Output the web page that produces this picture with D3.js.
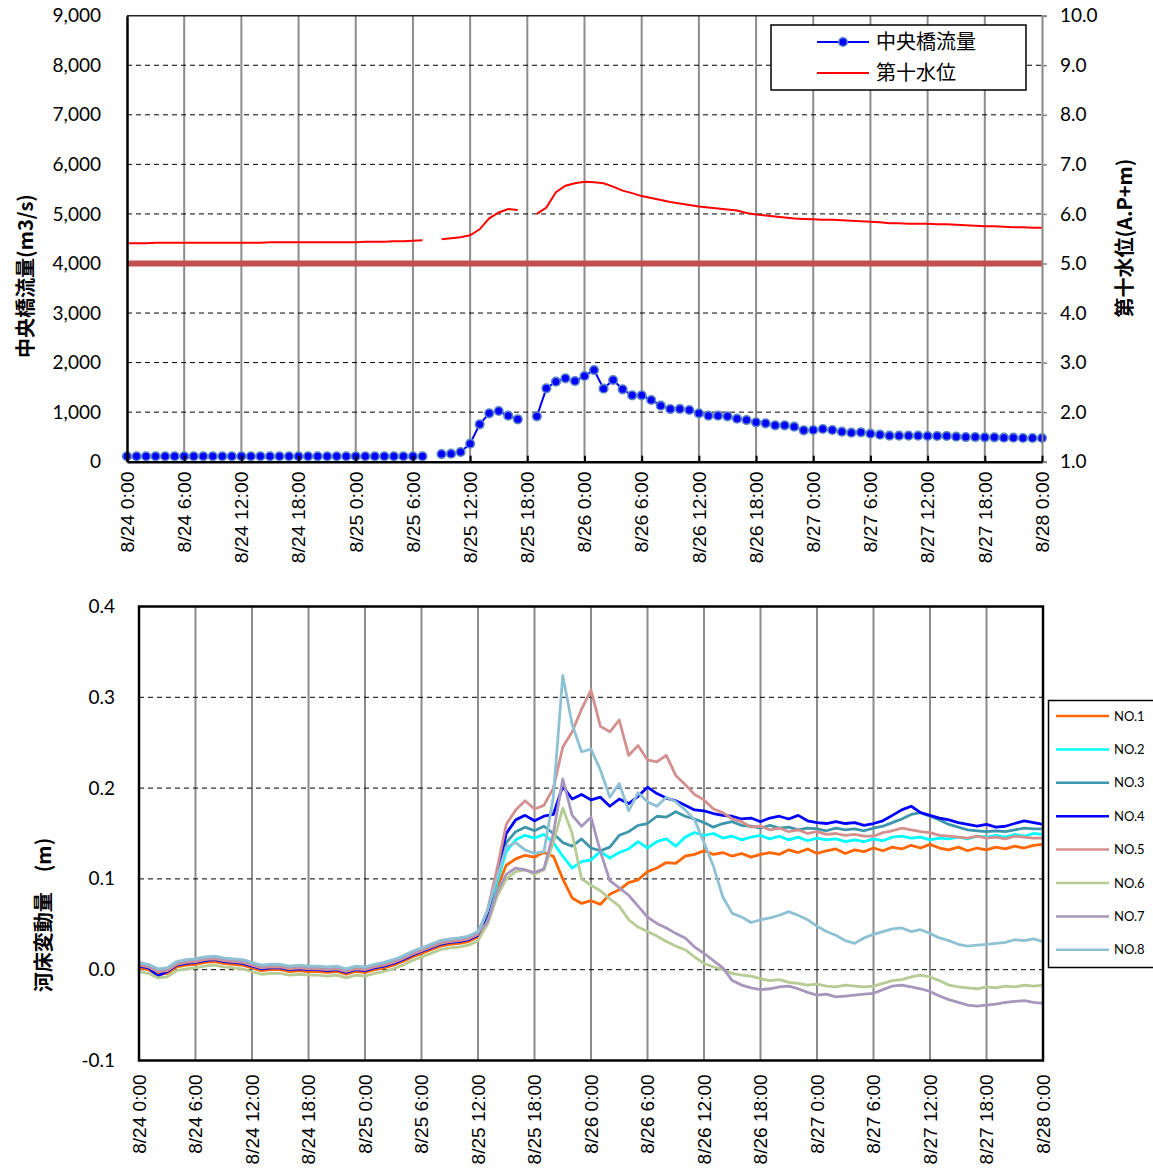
<!DOCTYPE html>
<meta charset="utf-8">
<title>中央橋流量・第十水位・河床変動量</title>
<style>
  body { margin: 0; background: #fff; }
  svg { display: block; }
  .num text { font-family: Lato, "Open Sans", sans-serif; font-size: 19px; fill: #000; }
  .date text { font-family: "Liberation Sans", Arial, sans-serif; font-size: 18px; fill: #000; }
  .title { font-family: "Noto Sans CJK JP", sans-serif; font-weight: bold; font-size: 20px; }
  .vgrid { stroke: #8c8c8c; stroke-width: 2px; }
  .hgrid { stroke: #000; stroke-width: 1px; stroke-dasharray: 5,4; }
  .frame { fill: none; stroke: #000; }
</style>
<svg width="1153" height="1171"></svg>
<script src="https://d3js.org/d3.v7.min.js"></script>
<script>
// hourly samples, 8/24 0:00 .. 8/28 0:00 (97 values), null = no data
var flow = [
  110,110,110,110,110,110,110,110,110,110,110,110,
  110,110,110,110,110,110,110,110,110,110,110,110,
  110,110,110,110,110,110,110,110,
  null,155,161,196,363,755,977,1023,928,856,
  null,916,1481,1614,1683,1628,1729,1850,1473,1649,1461,1340,1340,1245,1130,1063,
  1065,1043,977,928,928,916,868,841,795,775,735,735,706,634,640,660,640,605,585,593,
  565,545,525,525,525,525,519,519,519,505,498,498,492,492,484,484,478,478,478
];
var level = [
  5.41,5.41,5.41,5.42,5.42,5.42,5.42,5.42,5.42,5.42,5.42,5.42,
  5.42,5.42,5.42,5.43,5.43,5.43,5.43,5.43,5.43,5.43,5.43,5.43,
  5.43,5.44,5.44,5.44,5.45,5.45,5.46,5.47,
  null,5.49,5.51,5.53,5.57,5.69,5.91,6.03,6.10,6.08,
  null,6.00,6.13,6.44,6.57,6.62,6.65,6.64,6.62,6.55,6.47,6.42,6.36,6.32,6.28,6.24,
  6.21,6.18,6.15,6.13,6.11,6.09,6.07,6.02,5.99,5.97,5.95,5.93,5.91,5.90,5.89,5.88,5.88,5.87,5.86,5.85,
  5.84,5.83,5.81,5.81,5.80,5.80,5.80,5.79,5.79,5.78,5.77,5.76,5.75,5.75,5.74,5.73,5.73,5.72,5.72
];
var refLevel = 5.0;

var seriesNames = ["NO.1","NO.2","NO.3","NO.4","NO.5","NO.6","NO.7","NO.8"];
var seriesColors = ["#ff6600","#00ffff","#3d96ab","#0000ff","#d4908e","#b7cb95","#a797bd","#8fc1d4"];

var no1 = [0.002,0.000,-0.005,-0.004,0.003,0.005,0.006,0.008,0.009,0.007,0.006,0.005,0.002,-0.001,0.000,0.000,-0.002,-0.001,-0.002,-0.002,-0.003,-0.002,-0.005,-0.002,-0.003,0.000,0.002,0.005,0.009,0.014,0.018,0.022,0.026,0.028,0.029,0.031,0.036,
  0.055,0.090,0.115,0.122,0.126,0.124,0.129,0.125,0.100,0.079,
  0.073,0.076,0.072,0.083,0.088,0.096,0.099,0.108,0.112,0.118,
  0.117,0.125,0.127,0.131,0.127,0.129,0.125,0.128,0.124,0.127,
  0.129,0.127,0.132,0.129,0.133,0.128,0.131,0.133,0.128,0.132,
  0.130,0.134,0.131,0.135,0.133,0.137,0.134,0.138,0.134,0.132,
  0.135,0.131,0.134,0.132,0.135,0.133,0.136,0.134,0.137,0.138];
var no2 = [0.006,0.004,-0.001,0.000,0.007,0.009,0.010,0.012,0.013,0.011,0.010,0.009,0.006,0.003,0.004,0.004,0.002,0.003,0.002,0.002,0.001,0.002,-0.001,0.002,0.001,0.004,0.006,0.009,0.013,0.018,0.022,0.026,0.030,0.032,0.033,0.035,0.040,
  0.058,0.095,0.130,0.143,0.148,0.145,0.149,0.140,0.125,0.112,
  0.119,0.121,0.130,0.123,0.129,0.133,0.141,0.134,0.141,0.144,
  0.136,0.146,0.151,0.148,0.150,0.145,0.147,0.143,0.146,0.148,
  0.144,0.147,0.143,0.146,0.142,0.145,0.143,0.144,0.141,0.143,
  0.141,0.144,0.142,0.146,0.147,0.145,0.146,0.143,0.145,0.144,
  0.146,0.144,0.147,0.146,0.148,0.146,0.149,0.147,0.150,0.149];
var no3 = [0.005,0.003,-0.002,-0.001,0.006,0.008,0.009,0.011,0.012,0.010,0.009,0.008,0.005,0.002,0.003,0.003,0.001,0.002,0.001,0.001,0.000,0.001,-0.002,0.001,0.000,0.003,0.005,0.008,0.012,0.017,0.021,0.025,0.029,0.031,0.032,0.034,0.039,
  0.060,0.100,0.140,0.152,0.157,0.153,0.158,0.150,0.140,0.136,
  0.144,0.134,0.131,0.135,0.148,0.152,0.159,0.161,0.169,0.168,
  0.174,0.169,0.166,0.162,0.157,0.161,0.163,0.159,0.158,0.156,
  0.159,0.156,0.157,0.154,0.156,0.155,0.153,0.156,0.154,0.155,
  0.153,0.156,0.158,0.162,0.166,0.171,0.173,0.169,0.165,0.160,
  0.157,0.154,0.153,0.152,0.153,0.152,0.154,0.156,0.155,0.155];
var no4 = [0.004,0.002,-0.007,-0.002,0.005,0.007,0.008,0.010,0.011,0.009,0.008,0.007,0.004,0.001,0.002,0.002,0.000,0.001,0.000,0.000,-0.001,0.000,-0.003,0.000,-0.001,0.002,0.004,0.007,0.011,0.016,0.020,0.024,0.028,0.030,0.031,0.033,0.038,
  0.062,0.105,0.150,0.165,0.170,0.164,0.169,0.171,0.202,0.188,
  0.193,0.187,0.190,0.180,0.188,0.183,0.191,0.201,0.194,0.189,
  0.186,0.181,0.176,0.175,0.172,0.170,0.169,0.166,0.167,0.163,
  0.167,0.169,0.166,0.170,0.164,0.162,0.161,0.163,0.161,0.162,
  0.159,0.161,0.164,0.170,0.176,0.180,0.173,0.170,0.167,0.165,
  0.162,0.160,0.158,0.160,0.157,0.158,0.161,0.164,0.162,0.160];
var no5 = [0.005,0.003,-0.002,-0.001,0.006,0.008,0.009,0.011,0.012,0.010,0.009,0.008,0.005,0.002,0.003,0.003,0.001,0.002,0.001,0.001,0.000,0.001,-0.002,0.001,0.000,0.003,0.005,0.008,0.012,0.017,0.021,0.025,0.029,0.031,0.032,0.034,0.039,
  0.065,0.110,0.160,0.176,0.186,0.177,0.181,0.200,0.245,0.262,
  0.287,0.308,0.268,0.262,0.275,0.236,0.247,0.231,0.229,0.236,
  0.214,0.204,0.193,0.187,0.177,0.173,0.166,0.163,0.157,0.158,
  0.154,0.156,0.152,0.154,0.150,0.152,0.149,0.150,0.148,0.149,
  0.147,0.147,0.151,0.153,0.156,0.154,0.152,0.151,0.148,0.147,
  0.146,0.145,0.147,0.145,0.146,0.144,0.147,0.146,0.145,0.145];
var no6 = [-0.002,-0.004,-0.009,-0.008,-0.001,0.001,0.002,0.004,0.005,0.003,0.002,0.001,-0.002,-0.005,-0.004,-0.004,-0.006,-0.005,-0.006,-0.006,-0.007,-0.006,-0.009,-0.006,-0.007,-0.004,-0.002,0.001,0.005,0.010,0.014,0.018,0.022,0.024,0.025,0.027,0.032,
  0.050,0.080,0.100,0.108,0.110,0.105,0.110,0.140,0.178,0.150,
  0.100,0.093,0.087,0.078,0.070,0.055,0.047,0.042,0.037,0.031,
  0.026,0.022,0.014,0.007,0.003,0.000,-0.004,-0.006,-0.007,-0.010,
  -0.012,-0.011,-0.014,-0.015,-0.017,-0.016,-0.018,-0.019,-0.017,-0.018,
  -0.019,-0.018,-0.015,-0.012,-0.011,-0.008,-0.006,-0.008,-0.012,-0.017,
  -0.019,-0.020,-0.021,-0.019,-0.020,-0.018,-0.019,-0.017,-0.018,-0.017];
var no7 = [0.007,0.005,0.000,0.001,0.008,0.010,0.011,0.013,0.014,0.012,0.011,0.010,0.007,0.004,0.005,0.005,0.003,0.004,0.003,0.003,0.002,0.003,0.000,0.003,0.002,0.005,0.007,0.010,0.014,0.019,0.023,0.027,0.031,0.033,0.034,0.036,0.041,
  0.052,0.085,0.105,0.112,0.110,0.107,0.111,0.150,0.210,0.170,
  0.158,0.168,0.130,0.098,0.090,0.082,0.070,0.058,0.051,0.046,
  0.040,0.035,0.025,0.018,0.010,0.002,-0.012,-0.017,-0.020,-0.022,
  -0.021,-0.019,-0.018,-0.021,-0.025,-0.028,-0.027,-0.030,-0.029,-0.028,
  -0.027,-0.026,-0.022,-0.018,-0.017,-0.019,-0.021,-0.024,-0.029,-0.033,
  -0.036,-0.039,-0.040,-0.039,-0.038,-0.036,-0.035,-0.034,-0.036,-0.037];
var no8 = [0.008,0.006,0.001,0.002,0.009,0.011,0.012,0.014,0.015,0.013,0.012,0.011,0.008,0.005,0.006,0.006,0.004,0.005,0.004,0.004,0.003,0.004,0.001,0.004,0.003,0.006,0.008,0.011,0.015,0.020,0.024,0.028,0.032,0.034,0.035,0.037,0.042,
  0.065,0.100,0.135,0.140,0.132,0.128,0.130,0.190,0.324,0.270,
  0.240,0.243,0.220,0.190,0.205,0.175,0.195,0.185,0.180,0.190,
  0.185,0.176,0.165,0.140,0.114,0.080,0.062,0.058,0.052,0.055,
  0.057,0.060,0.064,0.060,0.055,0.048,0.042,0.038,0.032,0.029,
  0.035,0.039,0.042,0.045,0.046,0.042,0.044,0.040,0.035,0.032,
  0.028,0.026,0.027,0.028,0.029,0.030,0.033,0.032,0.034,0.031];
var bedSeries = [no1, no2, no3, no4, no5, no6, no7, no8];

var start = new Date(2000, 7, 24, 0, 0);
var end = new Date(2000, 7, 28, 0, 0);
function t(i) { return d3.timeHour.offset(start, i); }
var fmt = d3.timeFormat("%-m/%-d %-H:%M");

var svg = d3.select("svg");

// ---------- top chart ----------
var T = { l: 127, r: 1042, t: 15.7, b: 461.7 };
var x1 = d3.scaleTime().domain([start, end]).range([T.l, T.r]);
var yQ = d3.scaleLinear().domain([0, 9000]).range([T.b, T.t]);
var yH = d3.scaleLinear().domain([1, 10]).range([T.b, T.t]);
var ticks6 = x1.ticks(d3.timeHour.every(6));

var gTop = svg.append("g");
gTop.selectAll(".vgrid").data(ticks6.slice(1, -1)).enter().append("line")
  .attr("class", "vgrid")
  .attr("x1", x1).attr("x2", x1).attr("y1", T.t).attr("y2", T.b);
gTop.selectAll(".hgrid").data(d3.range(1000, 9000, 1000)).enter().append("line")
  .attr("class", "hgrid")
  .attr("x1", T.l).attr("x2", T.r).attr("y1", yQ).attr("y2", yQ);

gTop.append("line").attr("x1", T.l).attr("x2", T.r)
  .attr("y1", yH(refLevel)).attr("y2", yH(refLevel))
  .attr("stroke", "#c0504d").attr("stroke-width", 6);

var lvLine = d3.line().defined(function (d) { return d != null; })
  .x(function (d, i) { return x1(t(i)); }).y(function (d) { return yH(d); });
gTop.append("path").datum(level).attr("d", lvLine)
  .attr("fill", "none").attr("stroke", "#ff0000").attr("stroke-width", 2);

var qLine = d3.line().defined(function (d) { return d != null; })
  .x(function (d, i) { return x1(t(i)); }).y(function (d) { return yQ(d); });
gTop.append("path").datum(flow).attr("d", qLine)
  .attr("fill", "none").attr("stroke", "#0000ff").attr("stroke-width", 2);
gTop.selectAll(".dot").data(flow.map(function (d, i) { return [i, d]; }).filter(function (p) { return p[1] != null; }))
  .enter().append("circle")
  .attr("cx", function (p) { return x1(t(p[0])); })
  .attr("cy", function (p) { return yQ(p[1]); })
  .attr("r", 4.3).attr("fill", "#0000ff")
  .attr("stroke", "#5b86c5").attr("stroke-width", 1.6);

// frame
gTop.append("line").attr("x1", T.l).attr("x2", T.r).attr("y1", T.t).attr("y2", T.t)
  .attr("stroke", "#222").attr("stroke-width", 1.5);

var axL = gTop.append("g").attr("class", "num").attr("transform", "translate(" + T.l + ",0)")
  .call(d3.axisLeft(yQ).tickValues(d3.range(0, 9001, 1000)).tickFormat(d3.format(",")).tickSize(0).tickPadding(26));
axL.select(".domain").attr("stroke", "#000").attr("stroke-width", 2.5);

var axR = gTop.append("g").attr("class", "num").attr("transform", "translate(" + T.r + ",0)")
  .call(d3.axisRight(yH).tickValues(d3.range(1, 10.01, 1)).tickFormat(d3.format(".1f")).tickSize(5).tickPadding(13));
axR.select(".domain").attr("stroke", "#888").attr("stroke-width", 2);
axR.selectAll(".tick line").attr("stroke", "#888").attr("stroke-width", 1.5);

var axB1 = gTop.append("g").attr("class", "date").attr("transform", "translate(0," + T.b + ")")
  .call(d3.axisBottom(x1).tickValues(ticks6).tickFormat(fmt).tickSizeInner(-6).tickSizeOuter(0));
axB1.select(".domain").attr("stroke", "#000").attr("stroke-width", 2.5);
axB1.selectAll(".tick line").attr("stroke", "#000").attr("stroke-width", 2);
axB1.selectAll("text").attr("transform", "rotate(-90) scale(1.08,1)").attr("x", -9).attr("y", 0)
  .attr("dy", "0.35em").attr("text-anchor", "end");

gTop.append("text").attr("class", "title").attr("transform", "translate(33,276) rotate(-90)")
  .attr("text-anchor", "middle").text("中央橋流量(m3/s)");
gTop.append("text").attr("class", "title").attr("transform", "translate(1132,238) rotate(-90)")
  .attr("text-anchor", "middle").text("第十水位(A.P+m)");

// legend top
var lg = gTop.append("g");
lg.append("rect").attr("x", 771).attr("y", 25).attr("width", 255).attr("height", 65)
  .attr("fill", "#fff").attr("stroke", "#000").attr("stroke-width", 1.5);
lg.append("line").attr("x1", 817).attr("x2", 869).attr("y1", 42).attr("y2", 42)
  .attr("stroke", "#0000ff").attr("stroke-width", 2);
lg.append("circle").attr("cx", 843).attr("cy", 42).attr("r", 4.3)
  .attr("fill", "#0000ff").attr("stroke", "#5b86c5").attr("stroke-width", 1.6);
lg.append("line").attr("x1", 817).attr("x2", 869).attr("y1", 73).attr("y2", 73)
  .attr("stroke", "#ff0000").attr("stroke-width", 2);
lg.selectAll("text").data(["中央橋流量", "第十水位"]).enter().append("text")
  .attr("x", 876).attr("y", function (d, i) { return 42 + i * 31; }).attr("dy", "0.36em")
  .style("font-family", "'Noto Sans CJK JP', sans-serif").style("font-size", "20px")
  .text(function (d) { return d; });

// ---------- bottom chart ----------
var B = { l: 139, r: 1043, t: 606.5, b: 1060.5 };
var x2 = d3.scaleTime().domain([start, end]).range([B.l, B.r]);
var yZ = d3.scaleLinear().domain([-0.1, 0.4]).range([B.b, B.t]);

var gBot = svg.append("g");
gBot.selectAll(".vgrid").data(ticks6.slice(1, -1)).enter().append("line")
  .attr("class", "vgrid")
  .attr("x1", x2).attr("x2", x2).attr("y1", B.t).attr("y2", B.b);
gBot.selectAll(".hgrid").data([0, 0.1, 0.2, 0.3]).enter().append("line")
  .attr("class", "hgrid")
  .attr("x1", B.l).attr("x2", B.r).attr("y1", yZ).attr("y2", yZ);

var zLine = d3.line().x(function (d, i) { return x2(t(i)); }).y(function (d) { return yZ(d); });
gBot.selectAll(".bed").data(bedSeries).enter().append("path")
  .attr("d", zLine).attr("fill", "none")
  .attr("stroke", function (d, i) { return seriesColors[i]; })
  .attr("stroke-width", 2.8).attr("stroke-linejoin", "round");

gBot.append("rect").attr("class", "frame").attr("x", B.l).attr("y", B.t)
  .attr("width", B.r - B.l).attr("height", B.b - B.t).attr("stroke-width", 2.5);

gBot.append("g").attr("class", "num").attr("transform", "translate(" + B.l + ",0)")
  .call(d3.axisLeft(yZ).tickValues([-0.1, 0, 0.1, 0.2, 0.3, 0.4])
    .tickFormat(function (d) { return d.toFixed(1); }).tickSize(0).tickPadding(24))
  .select(".domain").remove();

var axB2 = gBot.append("g").attr("class", "date").attr("transform", "translate(0," + B.b + ")")
  .call(d3.axisBottom(x2).tickValues(ticks6).tickFormat(fmt).tickSize(0));
axB2.select(".domain").remove();
axB2.selectAll("text").attr("transform", "rotate(-90) scale(1.06,1)").attr("x", -13).attr("y", 0)
  .attr("dy", "0.35em").attr("text-anchor", "end");

gBot.append("text").attr("class", "title").attr("transform", "translate(51,915) rotate(-90)")
  .attr("text-anchor", "middle").text("河床変動量　(m)");

// legend bottom
var lg2 = gBot.append("g");
lg2.append("rect").attr("x", 1048.5).attr("y", 700.5).attr("width", 120).attr("height", 267)
  .attr("fill", "#fff").attr("stroke", "#000").attr("stroke-width", 1.5);
var item = lg2.selectAll(".item").data(seriesNames).enter().append("g")
  .attr("transform", function (d, i) { return "translate(0," + (716 + i * 33.4) + ")"; });
item.append("line").attr("x1", 1056).attr("x2", 1109)
  .attr("stroke", function (d, i) { return seriesColors[i]; }).attr("stroke-width", 2.5);
item.append("text").attr("x", 1114).attr("dy", "0.36em")
  .style("font-family", "Lato, 'Open Sans', sans-serif").style("font-size", "13px")
  .text(function (d) { return d; });
</script>
